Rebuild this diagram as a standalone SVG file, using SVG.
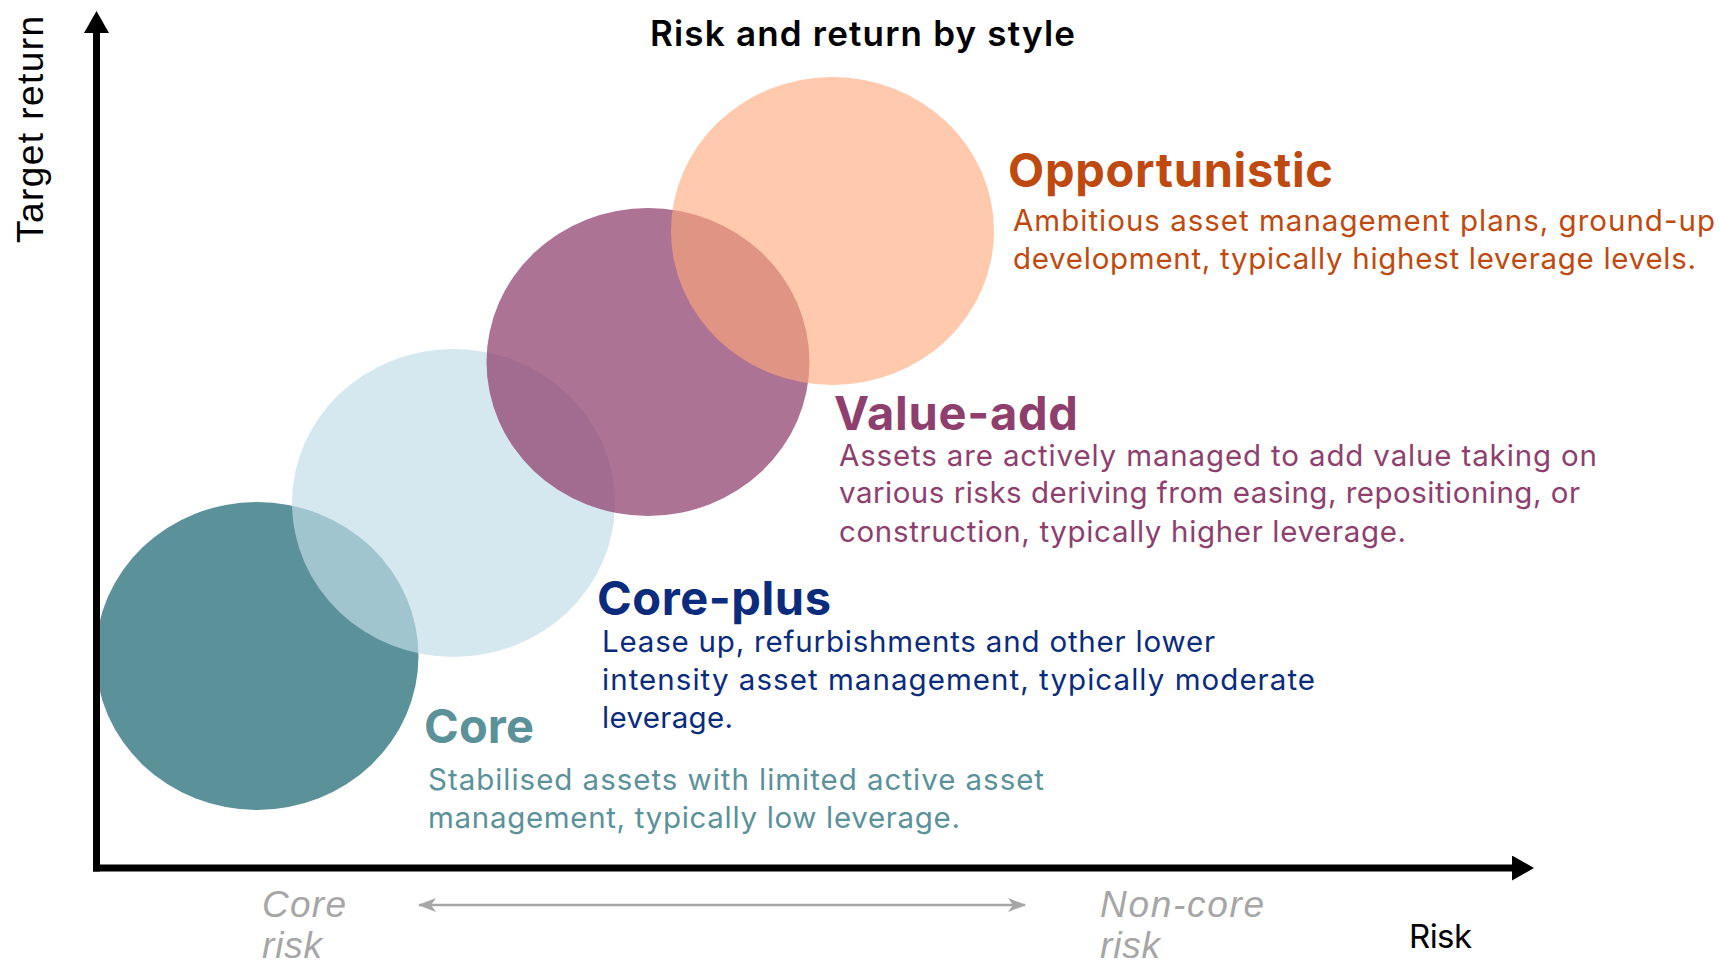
<svg xmlns="http://www.w3.org/2000/svg" width="1720" height="963" viewBox="0 0 1720 963">
  <style>
    .head { font-family: Inter, "DejaVu Sans", sans-serif; font-weight: 700; font-size: 47px; }
    .desc { font-family: Inter, "DejaVu Sans", sans-serif; font-weight: 400; font-size: 29.5px; }
    .title { font-family: Inter, "DejaVu Sans", sans-serif; font-weight: 600; font-size: 35px; fill: #000; }
    .axislbl { font-family: "Liberation Sans", Arial, sans-serif; font-size: 37px; fill: #000; }
    .risk { font-family: Inter, "DejaVu Sans", sans-serif; font-size: 33px; fill: #000; }
    .grey { font-family: "Liberation Sans", Arial, sans-serif; font-style: italic; font-size: 37px; fill: #A6A6A6; }
    .axis { stroke: #000; stroke-width: 7; fill: none; }
    .range { stroke: #A6A6A6; stroke-width: 2.5; fill: none; }
    .opp { fill: #BF4A0F; }
    .va { fill: #8E3F6E; }
    .cp { fill: #0B2B7C; }
    .core { fill: #5B9199; }
  </style>
  <defs>
    <marker id="axisHead" markerUnits="userSpaceOnUse" markerWidth="22" markerHeight="25" viewBox="0 0 22 25" refX="0" refY="12.5" orient="auto">
      <path d="M0,0 L22,12.5 L0,25 z" fill="#000"/>
    </marker>
    <marker id="greyHead" markerUnits="userSpaceOnUse" markerWidth="18" markerHeight="14" viewBox="0 0 18 14" refX="17" refY="7" orient="auto-start-reverse">
      <path d="M0,0 L18,7 L0,14 L5,7 z" fill="#A6A6A6"/>
    </marker>
  </defs>

  <text class="title" x="650" y="46" textLength="425">Risk and return by style</text>

  <g id="node-core">
    <ellipse cx="257" cy="656" rx="161.5" ry="154" fill="#5B9199"/>
    <text class="head core" x="424" y="743" textLength="110">Core</text>
    <text class="desc core" x="428" y="790" textLength="616">Stabilised assets with limited active asset</text>
    <text class="desc core" x="428" y="828" textLength="532">management, typically low leverage.</text>
  </g>

  <g id="node-core-plus">
    <ellipse cx="453.5" cy="503" rx="161.5" ry="154" fill="#C1DDE7" fill-opacity="0.68"/>
    <text class="head cp" x="597" y="615" textLength="234">Core-plus</text>
    <text class="desc cp" x="602" y="652" textLength="613">Lease up, refurbishments and other lower</text>
    <text class="desc cp" x="602" y="690" textLength="713">intensity asset management, typically moderate</text>
    <text class="desc cp" x="602" y="728" textLength="131">leverage.</text>
  </g>

  <g id="node-value-add">
    <ellipse cx="648" cy="362" rx="161.5" ry="154" fill="#8A3866" fill-opacity="0.7"/>
    <text class="head va" x="834" y="430" textLength="244">Value-add</text>
    <text class="desc va" x="839" y="466" textLength="758">Assets are actively managed to add value taking on</text>
    <text class="desc va" x="839" y="503" textLength="741">various risks deriving from easing, repositioning, or</text>
    <text class="desc va" x="839" y="542" textLength="567">construction, typically higher leverage.</text>
  </g>

  <g id="node-opportunistic">
    <ellipse cx="832.5" cy="231" rx="161.5" ry="154" fill="#FFA87B" fill-opacity="0.62"/>
    <text class="head opp" x="1008" y="187" textLength="325">Opportunistic</text>
    <text class="desc opp" x="1013" y="231" textLength="702">Ambitious asset management plans, ground-up</text>
    <text class="desc opp" x="1013" y="269" textLength="683">development, typically highest leverage levels.</text>
  </g>

  <g id="connectors">
    <line class="axis" x1="96.5" y1="871.5" x2="96.5" y2="33" marker-end="url(#axisHead)"/>
    <line class="axis" x1="93" y1="868" x2="1512" y2="868" marker-end="url(#axisHead)"/>
    <line class="range" x1="419" y1="905" x2="1025" y2="905" marker-start="url(#greyHead)" marker-end="url(#greyHead)"/>
  </g>

  <g id="axis-labels">
    <text class="axislbl" transform="translate(43,243) rotate(-90)" textLength="227">Target return</text>
    <text class="risk" x="1409" y="948" textLength="63">Risk</text>
    <text class="grey" x="262" y="917" textLength="84">Core</text>
    <text class="grey" x="262" y="958" textLength="60">risk</text>
    <text class="grey" x="1100" y="917" textLength="164">Non-core</text>
    <text class="grey" x="1100" y="958" textLength="60">risk</text>
  </g>
</svg>
